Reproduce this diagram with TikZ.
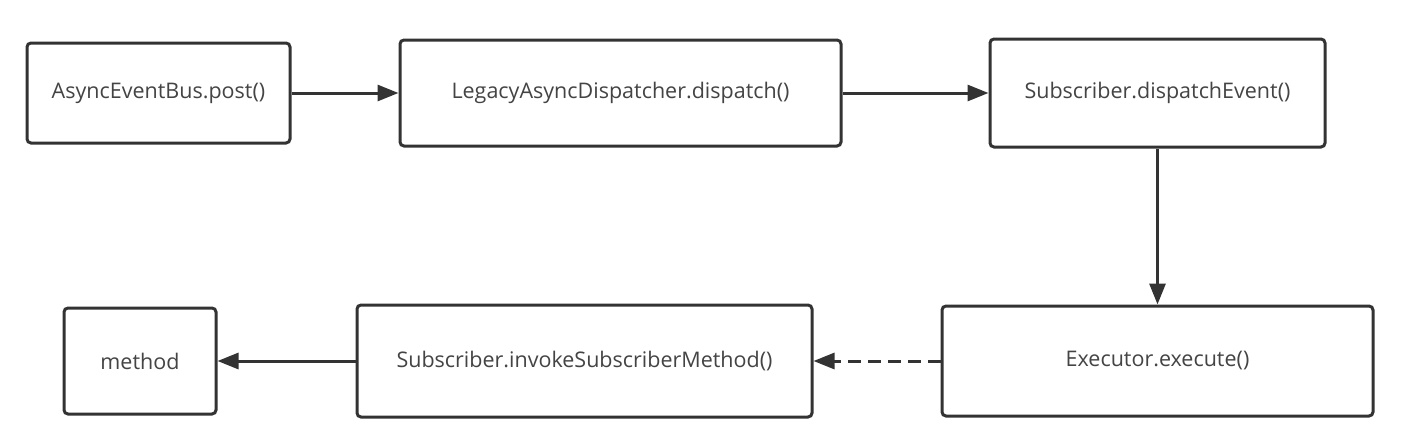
\documentclass[tikz,border=0pt]{standalone}
\usepackage{fontspec}
\setmainfont{Open Sans}
\usetikzlibrary{arrows.meta}
\definecolor{ink}{HTML}{333333}
\definecolor{txt}{HTML}{444444}
\begin{document}
\begin{tikzpicture}[x=1pt,y=-1pt,
  box/.style={draw=ink, line width=3pt, rounded corners=4pt, fill=white,
    text=txt, inner sep=0pt, font=\fontsize{21.5}{24}\selectfont},
  conn/.style={draw=ink, line width=3pt, -{Triangle[length=21pt,width=16pt]}},
  dashconn/.style={conn, dash pattern=on 13pt off 7pt}]
\path[use as bounding box] (0,0) rectangle (1412,442);
\node[box, minimum width=263pt, minimum height=100pt] (bus) at (158.5,93) {AsyncEventBus.post()};
\node[box, minimum width=441pt, minimum height=106pt] (disp) at (620.5,93) {LegacyAsyncDispatcher.dispatch()};
\node[box, minimum width=335pt, minimum height=108pt] (sub) at (1157.5,93) {Subscriber.dispatchEvent()};
\node[box, minimum width=431pt, minimum height=110pt] (exec) at (1157.5,361) {Executor.execute()};
\node[box, minimum width=455pt, minimum height=112pt] (inv) at (584.5,361) {Subscriber.invokeSubscriberMethod()};
\node[box, minimum width=152pt, minimum height=106pt] (meth) at (140,361) {method};
\draw[conn] (bus) -- (disp);
\draw[conn] (disp) -- (sub);
\draw[conn] (sub) -- (exec);
\draw[dashconn] (exec) -- (inv);
\draw[conn] (inv) -- (meth);
\end{tikzpicture}
\end{document}
